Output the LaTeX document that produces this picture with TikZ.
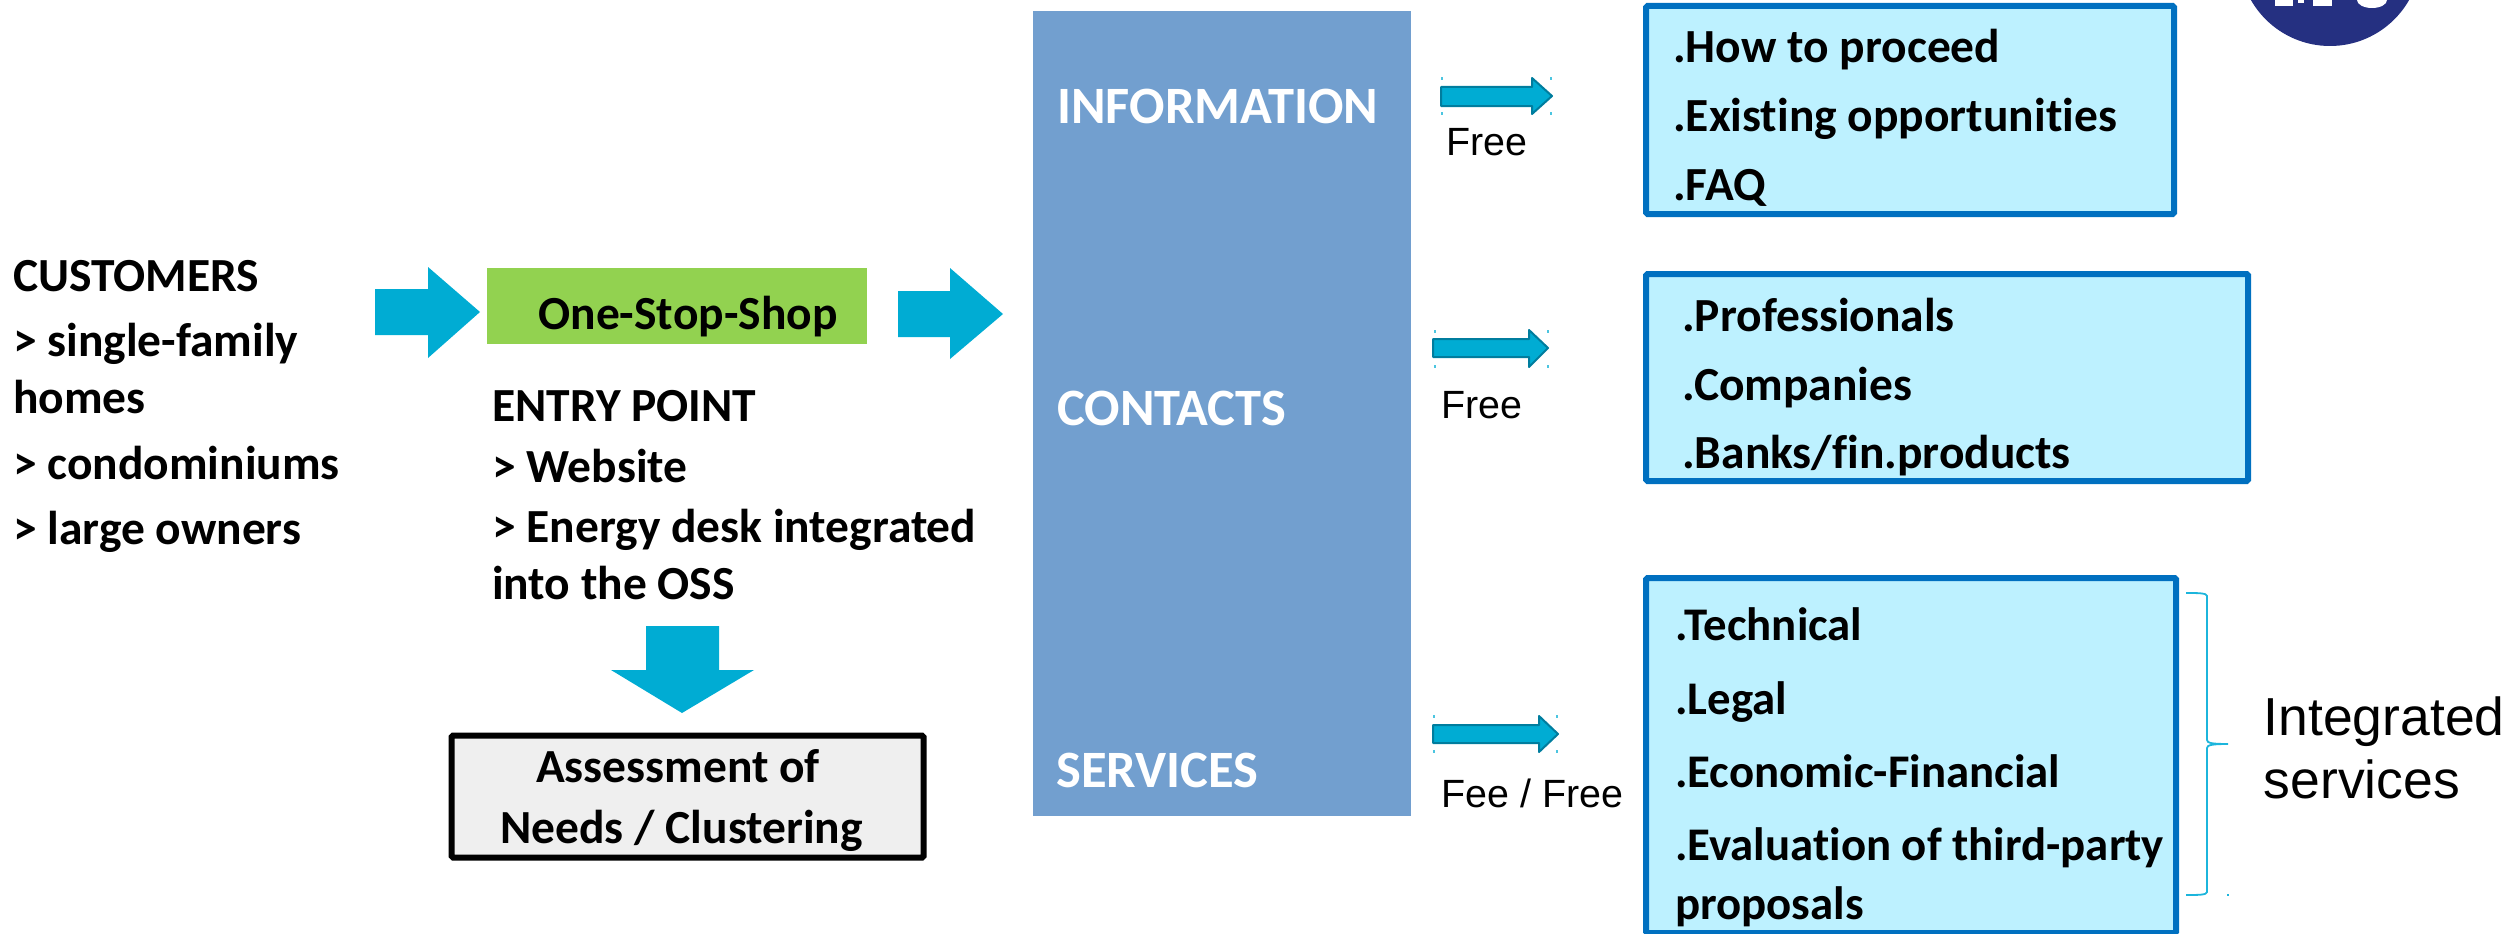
\documentclass[tikz,border=0pt]{standalone}
\usepackage{fontspec}
\setmainfont{Carlito}[Ligatures=NoCommon]
\newfontfamily\arialf{Liberation Sans}
\definecolor{arrowblue}{HTML}{00ACD3}
\definecolor{arrowedge}{HTML}{007D9E}
\definecolor{panelblue}{HTML}{729FCF}
\definecolor{boxfill}{HTML}{BDF1FF}
\definecolor{boxedge}{HTML}{0070C0}
\definecolor{greenbox}{HTML}{92D250}
\definecolor{greybox}{HTML}{EFEFEF}
\definecolor{logoblue}{HTML}{253081}
\definecolor{bracecol}{HTML}{1CB5DC}
\tikzset{
  x=1pt,y=-1pt,
  bt/.style={anchor=base west,inner sep=0pt,font=\fontsize{47.5}{47.5}\selectfont\bfseries},
  bs/.style={bt,font=\fontsize{46.8}{46.8}\selectfont\bfseries},
  wt/.style={bt,text=white,font=\fontsize{52.5}{52.5}\selectfont\bfseries},
  arialtext/.style={anchor=base west,inner sep=0pt,font=\arialf\fontsize{39.4}{39.4}\selectfont},
  lt/.style={anchor=base west,inner sep=0pt,font=\arialf\fontsize{53.5}{53.5}\selectfont},
  lightbox/.style={draw=boxedge,fill=boxfill,line width=6pt,rounded corners=1.5pt,inner sep=0pt},
  blockarrow/.style={fill=arrowblue},
  thinarrow/.style={fill=arrowblue,draw=arrowedge,line width=2pt,line join=round},
  handle/.style={fill=arrowblue!70!white},
  bracepath/.style={draw=bracecol,line width=1.8pt}
}
\begin{document}
\begin{tikzpicture}
\useasboundingbox (0,0) rectangle (2512,934);
% logo
\fill[logoblue] (2330,-45) circle [radius=91];
\fill[white] (2275,-2) rectangle (2293,6);
\fill[white] (2298,-2) rectangle (2304,3);
\fill[white] (2313,-2) rectangle (2332,6);
\fill[white] (2372,0) ellipse [x radius=15, y radius=8];
% panel
\node[fill=panelblue,inner sep=0pt,minimum width=378pt,minimum height=805pt] (panel) at (1222,413.5) {};
% boxes
\node[lightbox,minimum width=528pt,minimum height=208pt] (b1) at (1910,110) {};
\node[lightbox,minimum width=602pt,minimum height=207pt] (b2) at (1947,377.5) {};
\node[lightbox,minimum width=530pt,minimum height=355pt] (b3) at (1911,755.5) {};
\node[fill=greenbox,inner sep=0pt,minimum width=380pt,minimum height=76pt] (oss) at (677,306) {};
\node[draw=black,fill=greybox,line width=6pt,rounded corners=1.5pt,inner sep=0pt,minimum width=472pt,minimum height=122pt] (needs) at (687.5,796.5) {};
% block arrows
\fill[blockarrow] (375,289) -- (428,289) -- (428,267) -- (480,312) -- (428,358) -- (428,335) -- (375,335) -- cycle;
\fill[blockarrow] (898,291) -- (950,291) -- (950,268) -- (1003,314) -- (950,359) -- (950,337) -- (898,337) -- cycle;
\fill[blockarrow] (646,626) -- (719,626) -- (719,670) -- (754,670) -- (682,713) -- (611,670) -- (646,670) -- cycle;
% thin arrows
\draw[thinarrow] (1441,87) -- (1532,87) -- (1532,78) -- (1552,96) -- (1532,114) -- (1532,106) -- (1441,106) -- cycle;
\draw[thinarrow] (1433,339) -- (1529,339) -- (1529,330) -- (1548,348) -- (1529,367) -- (1529,357) -- (1433,357) -- cycle;
\draw[thinarrow] (1433,725) -- (1539,725) -- (1539,716) -- (1558,734) -- (1539,752) -- (1539,743) -- (1433,743) -- cycle;
\foreach \hx/\hy in {1442/79,1551/79,1442/113,1551/113,1435/331,1548/331,1435/366,1548/366,1434/716,1557/716,1434/751,1557/751}
  \fill[handle] (\hx-1,\hy-1.5) rectangle (\hx+1,\hy+1.5);
% brace
\draw[bracepath] (2186,593) .. controls (2198,593) and (2207,593) .. (2207,596) -- (2207,740) .. controls (2207,743) and (2212,744) .. (2228,744) .. controls (2212,744) and (2207,745) .. (2207,748) -- (2207,892) .. controls (2207,895) and (2198,895) .. (2186,895);
\fill[bracecol] (2227,894) rectangle (2229,896);
% left text
\node[bt] (c1) at (13,291) {CUSTOMERS};
\node[bt] (c2) at (13,356.5) {> single-family};
\node[bt] (c3) at (13,413.5) {homes};
\node[bt] (c4) at (13,479.5) {> condominiums};
\node[bt] (c5) at (13,544) {> large owners};
\node[bt,anchor=base] (osslabel) at (688,329.5) {One-Stop-Shop};
\node[bt] (e1) at (492,421.5) {ENTRY POINT};
\node[bt] (e2) at (492,482.5) {> Website};
\node[bt] (e3) at (492,542.5) {> Energy desk integrated};
\node[bt] (e4) at (492,599.5) {into the OSS};
\node[bt,anchor=base] (n1) at (678,782) {Assessment of};
\node[bt,anchor=base] (n2) at (681.5,843.5) {Needs / Clustering};
% panel text
\node[wt] (p1) at (1057,123) {INFORMATION};
\node[wt] (p2) at (1057,425) {CONTACTS};
\node[wt] (p3) at (1056,787) {SERVICES};
% arrow labels
\node[arialtext] (f1) at (1446.5,155) {Free};
\node[arialtext] (f2) at (1441.5,418) {Free};
\node[arialtext] (f3) at (1441.5,807) {Fee / Free};
% box text
\node[bt] (t1) at (1673,63) {.How to proceed};
\node[bt] (t2) at (1673,131) {.Existing opportunities};
\node[bt] (t3) at (1673,200) {.FAQ};
\node[bt] (t4) at (1682,331) {.Professionals};
\node[bt] (t5) at (1682,400) {.Companies};
\node[bt] (t6) at (1682,468) {.Banks/fin.products};
\node[bs] (t7) at (1675,640) {.Technical};
\node[bs] (t8) at (1675,714) {.Legal};
\node[bs] (t9) at (1675,787) {.Economic-Financial};
\node[bs] (t10) at (1675,860) {.Evaluation of third-party};
\node[bs] (t11) at (1675,919) {proposals};
\node[lt] (i1) at (2263.5,735) {Integrated};
\node[lt] (i2) at (2263.5,798) {services};
\end{tikzpicture}
\end{document}
